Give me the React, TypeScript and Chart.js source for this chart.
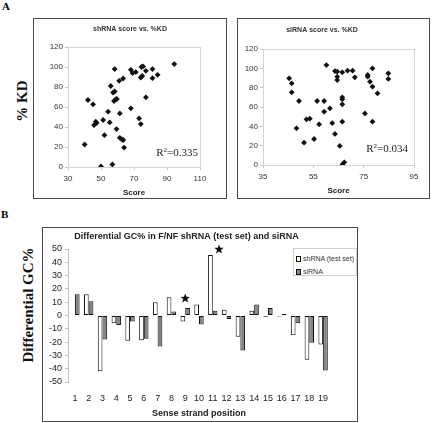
import React, { useEffect, useRef } from "react";
import { Chart, registerables } from "chart.js";

Chart.register(...registerables);

// ---------- Panel A data ----------
const shrnaScore = [40.1, 42.1, 45.2, 45.8, 46.8, 47.3, 50.0, 51.3, 52.1, 54.3, 55.3, 55.9, 56.9, 57.3, 58.3, 57.9, 58.9, 58.3, 59.6, 59.4, 61.4, 61.0, 61.4, 62.8, 63.4, 64.0, 63.5, 68.1, 68.1, 69.1, 71.1, 73.1, 74.1, 74.1, 74.5, 75.5, 75.0, 77.2, 77.2, 81.2, 81.2, 84.3, 94.4];
const shrnaKD = [22.5, 67.0, 62.7, 41.9, 45.3, 44.0, 0.5, 47.0, 31.8, 55.3, 44.6, 81.0, 2.5, 74.4, 97.9, 66.0, 67.7, 75.5, 68.0, 37.9, 53.6, 86.2, 29.2, 27.5, 88.5, 19.4, 27.0, 58.7, 97.2, 93.9, 94.9, 48.6, 89.5, 42.9, 100.0, 100.6, 91.0, 96.2, 69.7, 97.9, 88.8, 92.2, 102.9];

const sirnaScore = [45.4, 46.4, 46.4, 49.3, 48.3, 51.3, 52.3, 53.6, 55.3, 56.5, 57.3, 59.3, 59.3, 60.2, 61.6, 62.5, 63.6, 63.6, 64.5, 64.5, 64.5, 65.5, 66.5, 66.5, 66.5, 66.5, 66.5, 66.6, 67.3, 68.6, 70.6, 71.5, 75.5, 76.6, 76.6, 77.5, 78.5, 78.5, 78.5, 80.5, 84.8, 84.8];
const sirnaKD = [89.7, 84.5, 75.2, 66.2, 37.9, 23.1, 47.2, 47.9, 26.9, 66.2, 42.1, 66.2, 55.2, 103.4, 58.6, 43.4, 32.1, 97.2, 96.6, 91.4, 87.9, 19.7, 95.9, 70.0, 67.9, 62.8, 44.8, 0.7, 2.8, 97.6, 97.6, 90.7, 53.4, 93.1, 91.4, 86.2, 100.0, 81.0, 44.8, 74.1, 94.8, 89.0];

const shrnaR2 = "0.335";
const sirnaR2 = "0.034";

// ---------- Panel B data ----------
const positions = ["1", "2", "3", "4", "5", "6", "7", "8", "9", "10", "11", "12", "13", "14", "15", "16", "17", "18", "19"];
const shrnaGC = [0, 16, -42, -5.9, -19, -18.7, 10, 13.8, -4.6, 8.2, 45.4, 4.4, -16, 3.6, -1, -0.8, -14.9, -33.3, -21.8];
const sirnaGC = [16, 10.8, -18, -7.2, -4.6, -17.4, -23.3, 3, 5.6, -6.7, 3.6, -2.6, -26.4, 8.2, 5.6, 1.2, -5.9, -20.5, -41.3];
const starPosition = [8, 10.45]; // category index (0-based)
const starValue = [12.8, 49.7];

const shrnaLabel = "shRNA (test set)";
const sirnaLabel = "siRNA";

const SANS = "Arial, 'Liberation Sans', sans-serif";
const SERIF = "'Times New Roman', 'Liberation Serif', serif";

// ---------- plugins ----------
const framePlugin = {
  id: "frame",
  beforeDatasetsDraw(chart: any, _a: any, opts: any) {
    if (!opts || !opts.color) return;
    const { ctx, chartArea: a } = chart;
    ctx.save();
    ctx.strokeStyle = opts.color;
    ctx.lineWidth = 1;
    ctx.strokeRect(Math.round(a.left) + 0.5, Math.round(a.top) + 0.5, Math.round(a.right - a.left), Math.round(a.bottom - a.top));
    ctx.restore();
  },
};

const captionPlugin = {
  id: "captions",
  afterDraw(chart: any, _a: any, opts: any) {
    if (!opts || !opts.title) return;
    const { ctx, chartArea: a } = chart;
    ctx.save();
    ctx.fillStyle = "#333";
    ctx.font = `bold 7px ${SANS}`;
    ctx.textAlign = "center";
    ctx.textBaseline = "middle";
    ctx.fillText(opts.title, opts.titleX, opts.titleY);
    const x = a.right - opts.r2Right;
    const y = a.bottom - opts.r2Bottom;
    ctx.fillStyle = "#222";
    ctx.textBaseline = "alphabetic";
    ctx.textAlign = "left";
    const big = `11px ${SERIF}`;
    const small = `7px ${SERIF}`;
    ctx.font = big;
    const wR = ctx.measureText("R").width;
    ctx.font = small;
    const w2 = ctx.measureText("2").width;
    ctx.font = big;
    const rest = "=" + opts.r2;
    const wRest = ctx.measureText(rest).width;
    let sx = x - (wR + w2 + wRest);
    ctx.fillText("R", sx, y);
    sx += wR;
    ctx.font = small;
    ctx.fillText("2", sx, y - 4);
    sx += w2;
    ctx.font = big;
    ctx.fillText(rest, sx, y);
    ctx.restore();
  },
};

const starPlugin = {
  id: "stars",
  afterDatasetsDraw(chart: any, _a: any, opts: any) {
    if (!opts || !opts.positions) return;
    const { ctx } = chart;
    const xs = chart.scales.x;
    const ys = chart.scales.y;
    ctx.save();
    ctx.fillStyle = "#111";
    opts.positions.forEach((p: number, i: number) => {
      const cx = xs.getPixelForValue(p);
      const cy = ys.getPixelForValue(opts.values[i]);
      const r = 5;
      ctx.beginPath();
      for (let k = 0; k < 10; k++) {
        const rad = k % 2 === 0 ? r : r * 0.42;
        const ang = -Math.PI / 2 + (k * Math.PI) / 5;
        const px = cx + rad * Math.cos(ang);
        const py = cy + rad * Math.sin(ang);
        if (k === 0) ctx.moveTo(px, py);
        else ctx.lineTo(px, py);
      }
      ctx.closePath();
      ctx.fill();
    });
    ctx.restore();
  },
};

// ---------- configs ----------
function scatterConfig(p: {
  xs: number[];
  ys: number[];
  xMin: number;
  xMax: number;
  title: string;
  titleX: number;
  titleY: number;
  r2: string;
  r2Right: number;
  r2Bottom: number;
  padTop: number;
  padRight: number;
  yWidth: number;
  xHeight: number;
  xTitlePadBottom: number;
}) {
  const axisColor = "#c8c8c8";
  return {
    type: "scatter",
    data: {
      datasets: [
        {
          data: p.xs.map((x, i) => ({ x, y: p.ys[i] })),
          pointStyle: "rectRot",
          pointRadius: 2.9,
          backgroundColor: "#111",
          borderColor: "#111",
          borderWidth: 0,
        },
      ],
    },
    options: {
      responsive: false,
      animation: false,
      devicePixelRatio: 1,
      layout: { padding: { top: p.padTop, right: p.padRight, left: 0, bottom: 0 } },
      plugins: {
        legend: { display: false },
        tooltip: { enabled: false },
        frame: { color: "#d4d4d4" },
        captions: {
          title: p.title,
          titleX: p.titleX,
          titleY: p.titleY,
          r2: p.r2,
          r2Right: p.r2Right,
          r2Bottom: p.r2Bottom,
        },
      },
      scales: {
        x: {
          type: "linear",
          min: p.xMin,
          max: p.xMax,
          ticks: { stepSize: 20, font: { size: 8, family: SANS }, color: "#333", padding: 4, autoSkip: false, maxRotation: 0 },
          grid: { drawOnChartArea: false, drawTicks: true, tickLength: 3, color: axisColor },
          border: { color: axisColor },
          title: {
            display: true,
            text: "Score",
            font: { size: 8, weight: "bold", family: SANS },
            color: "#222",
            padding: { top: 0, bottom: p.xTitlePadBottom },
          },
          afterFit: (s: any) => {
            s.height = p.xHeight;
          },
        },
        y: {
          min: 0,
          max: 120,
          ticks: { stepSize: 20, font: { size: 8, family: SANS }, color: "#333", padding: 2, autoSkip: false },
          grid: { drawOnChartArea: false, drawTicks: true, tickLength: 3, color: axisColor },
          border: { color: axisColor },
          afterFit: (s: any) => {
            s.width = p.yWidth;
          },
        },
      },
    },
    plugins: [framePlugin, captionPlugin],
  };
}

function barConfig() {
  const axisColor = "#c0c0c0";
  return {
    type: "bar",
    data: {
      labels: positions,
      datasets: [
        {
          label: shrnaLabel,
          data: shrnaGC,
          backgroundColor: "#ffffff",
          borderColor: "#111",
          borderWidth: 1,
          borderSkipped: false,
          categoryPercentage: 0.68,
          barPercentage: 1,
        },
        {
          label: sirnaLabel,
          data: sirnaGC,
          backgroundColor: "#858585",
          borderColor: "#111",
          borderWidth: 1,
          borderSkipped: false,
          categoryPercentage: 0.68,
          barPercentage: 1,
        },
      ],
    },
    options: {
      responsive: false,
      animation: false,
      devicePixelRatio: 1,
      layout: { padding: { top: 0, right: 27, left: 0, bottom: 0 } },
      plugins: {
        legend: { display: false },
        tooltip: { enabled: false },
        title: {
          display: true,
          text: "Differential GC% in F/NF shRNA (test set) and siRNA",
          font: { size: 9, weight: "bold", family: SANS },
          color: "#222",
          padding: { top: 3.6, bottom: 6.6 },
        },
        stars: { positions: starPosition, values: starValue },
      },
      scales: {
        x: {
          type: "category",
          offset: true,
          ticks: { font: { size: 9, family: SANS }, color: "#222", padding: 11, autoSkip: false, maxRotation: 0, minRotation: 0 },
          grid: { display: false, drawTicks: false },
          border: { display: false },
          title: {
            display: true,
            text: "Sense strand position",
            font: { size: 9, weight: "bold", family: SANS },
            color: "#222",
            padding: { top: 0, bottom: 1.6 },
          },
          afterFit: (s: any) => {
            s.height = 39;
          },
        },
        y: {
          min: -50,
          max: 50,
          ticks: { stepSize: 10, font: { size: 9, family: SANS }, color: "#222", padding: 3, autoSkip: false },
          grid: { drawOnChartArea: false, drawTicks: true, tickLength: 3, color: axisColor },
          border: { color: axisColor },
          afterFit: (s: any) => {
            s.width = 25;
          },
        },
      },
    },
    plugins: [starPlugin],
  };
}

function ChartCanvas(props: { make: () => any; left: number; top: number; width: number; height: number }) {
  const ref = useRef<HTMLCanvasElement | null>(null);
  useEffect(() => {
    if (!ref.current) return;
    const chart = new Chart(ref.current, props.make());
    return () => chart.destroy();
  }, []);
  return (
    <canvas
      ref={ref}
      width={props.width}
      height={props.height}
      style={{ position: "absolute", left: props.left, top: props.top, width: props.width, height: props.height }}
    />
  );
}

const boxStyle = (left: number, top: number, width: number, height: number): React.CSSProperties => ({
  position: "absolute",
  left,
  top,
  width,
  height,
  boxSizing: "border-box",
  border: "1px solid #4a4a4a",
  background: "#fff",
});

const rotated = (cx: number, cy: number, size: number): React.CSSProperties => ({
  position: "absolute",
  left: cx,
  top: cy,
  transform: "translate(-50%, -50%) rotate(-90deg)",
  whiteSpace: "nowrap",
  fontFamily: SERIF,
  fontWeight: "bold",
  fontSize: size,
  lineHeight: 1,
  color: "#111",
});

export default function App() {
  return (
    <div style={{ position: "absolute", left: 0, top: 0, width: 432, height: 423, background: "#fff", fontFamily: SANS, overflow: "hidden" }}>
      <div style={{ position: "absolute", left: 2, top: 1, fontFamily: SERIF, fontWeight: "bold", fontSize: 11, lineHeight: 1 }}>A</div>
      <div style={{ position: "absolute", left: 1, top: 209, fontFamily: SERIF, fontWeight: "bold", fontSize: 11, lineHeight: 1 }}>B</div>

      <div style={rotated(22, 101, 15)}>% KD</div>
      <div style={rotated(28, 305, 15)}>Differential GC%</div>

      <div style={boxStyle(33, 18, 194, 181)} />
      <ChartCanvas
        left={34}
        top={19}
        width={192}
        height={179}
        make={() =>
          scatterConfig({
            xs: shrnaScore,
            ys: shrnaKD,
            xMin: 30,
            xMax: 110,
            title: "shRNA score vs. %KD",
            titleX: 96,
            titleY: 10,
            r2: shrnaR2,
            r2Right: 2,
            r2Bottom: 11,
            padTop: 28,
            padRight: 26,
            yWidth: 34,
            xHeight: 31,
            xTitlePadBottom: 0,
          })
        }
      />

      <div style={boxStyle(237, 18, 193, 181)} />
      <ChartCanvas
        left={238}
        top={19}
        width={191}
        height={179}
        make={() =>
          scatterConfig({
            xs: sirnaScore,
            ys: sirnaKD,
            xMin: 35,
            xMax: 95,
            title: "siRNA score vs. %KD",
            titleX: 84,
            titleY: 11,
            r2: sirnaR2,
            r2Right: 6,
            r2Bottom: 13,
            padTop: 30,
            padRight: 15,
            yWidth: 25,
            xHeight: 33,
            xTitlePadBottom: 2,
          })
        }
      />

      <div style={boxStyle(42, 227, 316, 195)} />
      <ChartCanvas left={43} top={228} width={314} height={193} make={barConfig} />

      <div
        style={{
          position: "absolute",
          left: 293,
          top: 248,
          width: 64,
          height: 28,
          boxSizing: "border-box",
          border: "1px solid #d0d0d0",
          background: "#fff",
          fontSize: 7,
          color: "#333",
          lineHeight: 1,
        }}
      >
        {[
          { label: shrnaLabel, fill: "#ffffff" },
          { label: sirnaLabel, fill: "#858585" },
        ].map((it, i) => (
          <div key={i} style={{ position: "absolute", left: 2, top: 6 + i * 13, display: "flex", alignItems: "center", whiteSpace: "nowrap" }}>
            <span style={{ display: "inline-block", width: 5, height: 6, boxSizing: "border-box", border: "1px solid #111", background: it.fill, marginRight: 2 }} />
            <span>{it.label}</span>
          </div>
        ))}
      </div>
    </div>
  );
}
